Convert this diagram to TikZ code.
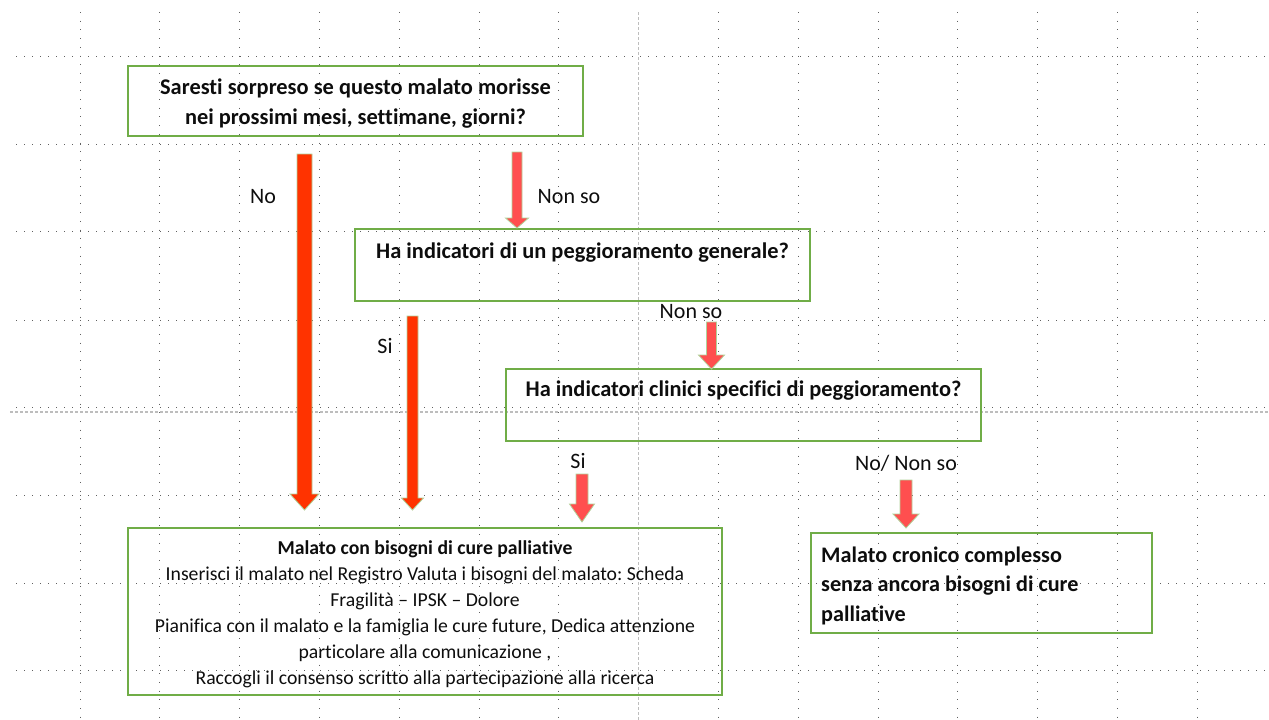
\documentclass[tikz,border=0pt]{standalone}
\usepackage{fontspec}
\setmainfont{Carlito}[Ligatures=NoCommon]
\frenchspacing
\definecolor{boxgreen}{HTML}{70AD47}
\definecolor{arrowA}{HTML}{FF3300}
\definecolor{arrowB}{HTML}{FF4F4F}
\definecolor{gridc}{HTML}{606060}
\definecolor{guidec}{HTML}{BDBDBD}
\definecolor{txt}{HTML}{0D0D0D}
\tikzset{
  box/.style={draw=boxgreen, line width=2pt, inner sep=0pt},
  btext/.style={inner sep=0pt, align=center, text=txt,
    font=\bfseries\fontsize{22.4}{30}\selectfont},
  lbl/.style={font=\fontsize{22}{26}\selectfont, inner sep=0pt, text=txt},
  gridh/.style={draw=gridc, line width=1pt, dash pattern=on 1pt off 7pt},
  gridv/.style={draw=gridc, line width=1pt, dash pattern=on 1pt off 7.7pt},
  guide/.style={draw=guidec, line width=1.2pt, dash pattern=on 3pt off 2pt},
  blk/.style={line width=0.8pt, draw=boxgreen!55},
}
% colour, x, y top, y head base, y tip, half shaft width, half head width
\newcommand\blockarrow[7]{%
  \filldraw[blk, fill=#1] ({#2-#6},#3) -- ({#2+#6},#3) -- ({#2+#6},#4) -- ({#2+#7},#4)
    -- (#2,#5) -- ({#2-#7},#4) -- ({#2-#6},#4) -- cycle;}
\begin{document}
\begin{tikzpicture}[x=1pt, y=-1pt]
\useasboundingbox (0,0) rectangle (1269,720);
% grid
\foreach \y in {56,144,231,320,407,495,583,670}
  \draw[gridh] (16,\y) -- (1269,\y);
\foreach \k in {0,...,6,8,9,...,14}
  \draw[gridv] ({80+79.8*\k},12) -- ({80+79.8*\k},720);
\draw[guide] (10,412) -- (1269,412);
\draw[guide] (638.6,12) -- (638.6,720);

% boxes
\node[box, minimum width=455pt, minimum height=70pt] (q1) at (355.5,101) {};
\node[btext] (q1t) at ([yshift=-3pt]q1.center)
  {Saresti sorpreso se questo malato morisse\\nei prossimi mesi, settimane, giorni?};
\node[box, minimum width=455pt, minimum height=72pt] (q2) at (582.5,265) {};
\node[btext] (q2t) at (582.5,253) {Ha indicatori di un peggioramento generale?};
\node[box, minimum width=475pt, minimum height=72pt] (q3) at (743.5,405) {};
\node[btext] (q3t) at (743.5,391) {Ha indicatori clinici specifici di peggioramento?};
\node[box, minimum width=594pt, minimum height=167pt] (pc) at (425,611.5) {};
\node[btext, font=\fontsize{19.7}{26}\selectfont] (pct) at ([yshift=-2.5pt]pc.center)
  {\textbf{Malato con bisogni di cure palliative}\\
   Inserisci il malato nel Registro Valuta i bisogni del malato: Scheda\\
   Fragilità – IPSK – Dolore\\
   Pianifica con il malato e la famiglia le cure future, Dedica attenzione\\
   particolare alla comunicazione ,\\
   Raccogli il consenso scritto alla partecipazione alla ricerca};
\node[box, minimum width=341pt, minimum height=100pt] (cr) at (981.5,583) {};
\node[btext, align=flush left, font=\bfseries\fontsize{22.2}{29.5}\selectfont, anchor=west]
  (crt) at ([xshift=11pt, yshift=-2.5pt]cr.west)
  {Malato cronico complesso\\senza ancora bisogni di cure\\palliative};

% labels
\node[lbl] (lno) at (263,196.5) {No};
\node[lbl] (lns1) at (569,196.5) {Non so};
\node[lbl] (lsi1) at (385,346.5) {Si};
\node[lbl] (lns2) at (691,311.5) {Non so};
\node[lbl] (lsi2) at (578,461.5) {Si};
\node[lbl] (lnn) at (906,463.5) {No/ Non so};

% block arrows
\blockarrow{arrowA}{304.5}{154}{494}{510}{7.5}{14.5}
\blockarrow{arrowA}{412.5}{316}{498}{510}{5.5}{11}
\blockarrow{arrowB}{517}{152}{218}{228}{5}{11.5}
\blockarrow{arrowB}{711.5}{322}{355}{369}{5}{13}
\blockarrow{arrowB}{582}{474}{504}{522}{6}{12.5}
\blockarrow{arrowB}{906}{480}{514}{528}{6}{13}
\end{tikzpicture}
\end{document}
